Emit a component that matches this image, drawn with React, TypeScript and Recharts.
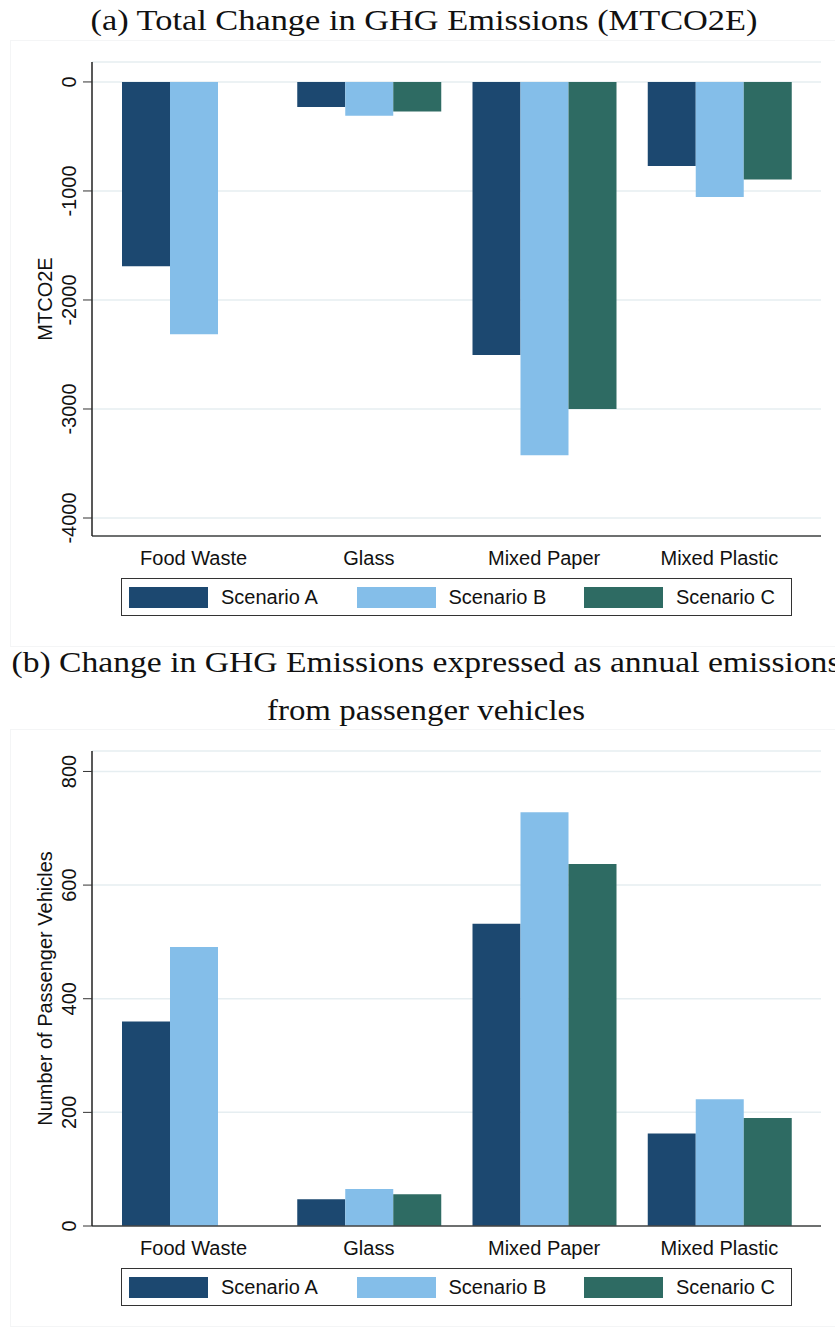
import React from 'react'
import { BarChart, Bar, XAxis, YAxis, CartesianGrid } from 'recharts'

const categories = ['Food Waste', 'Glass', 'Mixed Paper', 'Mixed Plastic']

// panel (a): MTCO2E
const mtco2eA = [-1690, -230, -2505, -770]
const mtco2eB = [-2315, -310, -3425, -1055]
const mtco2eC = [null, -270, -3000, -895]
const mtco2eTicks = [-4000, -3000, -2000, -1000, 0]

// panel (b): passenger vehicles
const vehiclesA = [360, 47, 532, 163]
const vehiclesB = [491, 65, 728, 223]
const vehiclesC = [null, 56, 637, 190]
const vehicleTicks = [0, 200, 400, 600, 800]

const scenarios = ['Scenario A', 'Scenario B', 'Scenario C']
const colors = ['#1c4870', '#84bee9', '#2e6b63']

const SANS = '"Liberation Sans", Arial, sans-serif'
const SERIF = '"Liberation Serif", "Times New Roman", serif'

const buildRows = (a: (number | null)[], b: (number | null)[], c: (number | null)[]) =>
  categories.map((name, i) => ({ name, a: a[i], b: b[i], c: c[i] }))

// eslint-disable-next-line @typescript-eslint/no-explicit-any
const YTick = ({ x, y, payload }: any) => (
  <text
    transform={`translate(${x - 7},${y}) rotate(-90)`}
    textAnchor="middle"
    fontSize={20}
    fontFamily={SANS}
    fill="#111"
  >
    {payload.value}
  </text>
)

// eslint-disable-next-line @typescript-eslint/no-explicit-any
const XTick = ({ x, y, payload }: any) => (
  <text x={x} y={y + 29} textAnchor="middle" fontSize={20} fontFamily={SANS} fill="#111">
    {payload.value}
  </text>
)

const yLabel = (text: string) =>
  // eslint-disable-next-line @typescript-eslint/no-explicit-any
  (props: any) => {
    const vb = props.viewBox || {}
    const cy = (vb.y ?? 0) + (vb.height ?? 0) / 2
    return (
      <text
        transform={`translate(52,${cy}) rotate(-90)`}
        textAnchor="middle"
        fontSize={20}
        fontFamily={SANS}
        fill="#111"
      >
        {text}
      </text>
    )
  }

interface PanelProps {
  top: number
  marginTop: number
  rows: ReturnType<typeof buildRows>
  domain: [number, number]
  ticks: number[]
  label: string
}

function Panel({ top, marginTop, rows, domain, ticks, label }: PanelProps) {
  return (
    <div style={{ position: 'absolute', left: 0, top }}>
      <BarChart
        width={835}
        height={640}
        data={rows}
        margin={{ top: marginTop, right: 14, bottom: 64, left: 0 }}
        barCategoryGap={16}
        barGap={0}
      >
        <CartesianGrid vertical={false} stroke="#e6eef1" strokeWidth={1.5} />
        <XAxis
          dataKey="name"
          height={40}
          padding={{ left: 14, right: 14 }}
          tickLine={false}
          tickSize={0}
          tickMargin={0}
          tick={<XTick />}
          axisLine={{ stroke: '#444', strokeWidth: 1.5 }}
        />
        <YAxis
          width={92}
          domain={domain}
          ticks={ticks}
          type="number"
          allowDataOverflow
          tickSize={9}
          tickMargin={0}
          tick={<YTick />}
          tickLine={{ stroke: '#333' }}
          axisLine={{ stroke: '#222', strokeWidth: 1.5 }}
          label={yLabel(label)}
        />
        {['a', 'b', 'c'].map((k, i) => (
          <Bar key={k} dataKey={k} name={scenarios[i]} fill={colors[i]} isAnimationActive={false} />
        ))}
      </BarChart>
    </div>
  )
}

function LegendBox({ top }: { top: number }) {
  return (
    <div
      style={{
        position: 'absolute',
        left: 121,
        top,
        width: 662,
        height: 36,
        border: '1px solid #333',
        display: 'flex',
        alignItems: 'center',
        paddingLeft: 7,
        boxSizing: 'content-box',
        fontFamily: SANS,
        fontSize: 20,
        color: '#111',
      }}
    >
      {scenarios.map((s, i) => (
        <div key={s} style={{ display: 'flex', alignItems: 'center', width: 227.5, flexShrink: 0 }}>
          <div style={{ width: 79, height: 21, background: colors[i] }} />
          <span style={{ marginLeft: 13, whiteSpace: 'nowrap' }}>{s}</span>
        </div>
      ))}
    </div>
  )
}

export default function App() {
  return (
    <div
      style={{
        position: 'absolute',
        left: 0,
        top: 0,
        width: 835,
        height: 1332,
        background: '#fff',
        overflow: 'hidden',
      }}
    >
      <div style={{ position: 'absolute', left: 10, top: 40, width: 830, height: 605, border: '1px solid #f4f5f6' }} />
      <div style={{ position: 'absolute', left: 10, top: 729, width: 830, height: 596, border: '1px solid #f4f5f6' }} />

      <Panel
        top={0}
        marginTop={62}
        rows={buildRows(mtco2eA, mtco2eB, mtco2eC)}
        domain={[-4165, 183]}
        ticks={mtco2eTicks}
        label="MTCO2E"
      />
      <Panel
        top={690}
        marginTop={61}
        rows={buildRows(vehiclesA, vehiclesB, vehiclesC)}
        domain={[0, 836]}
        ticks={vehicleTicks}
        label="Number of Passenger Vehicles"
      />

      <LegendBox top={578} />
      <LegendBox top={1268} />

      <svg width={835} height={1332} style={{ position: 'absolute', left: 0, top: 0, pointerEvents: 'none' }}>
        <g fontFamily={SERIF} fontSize={29} fill="#111" textAnchor="middle">
          <text x={424} y={30} textLength={667} lengthAdjust="spacingAndGlyphs">
            (a) Total Change in GHG Emissions (MTCO2E)
          </text>
          <text x={426} y={672} textLength={829} lengthAdjust="spacingAndGlyphs">
            (b) Change in GHG Emissions expressed as annual emissions
          </text>
          <text x={426} y={720} textLength={318} lengthAdjust="spacingAndGlyphs">
            from passenger vehicles
          </text>
        </g>
      </svg>
    </div>
  )
}
